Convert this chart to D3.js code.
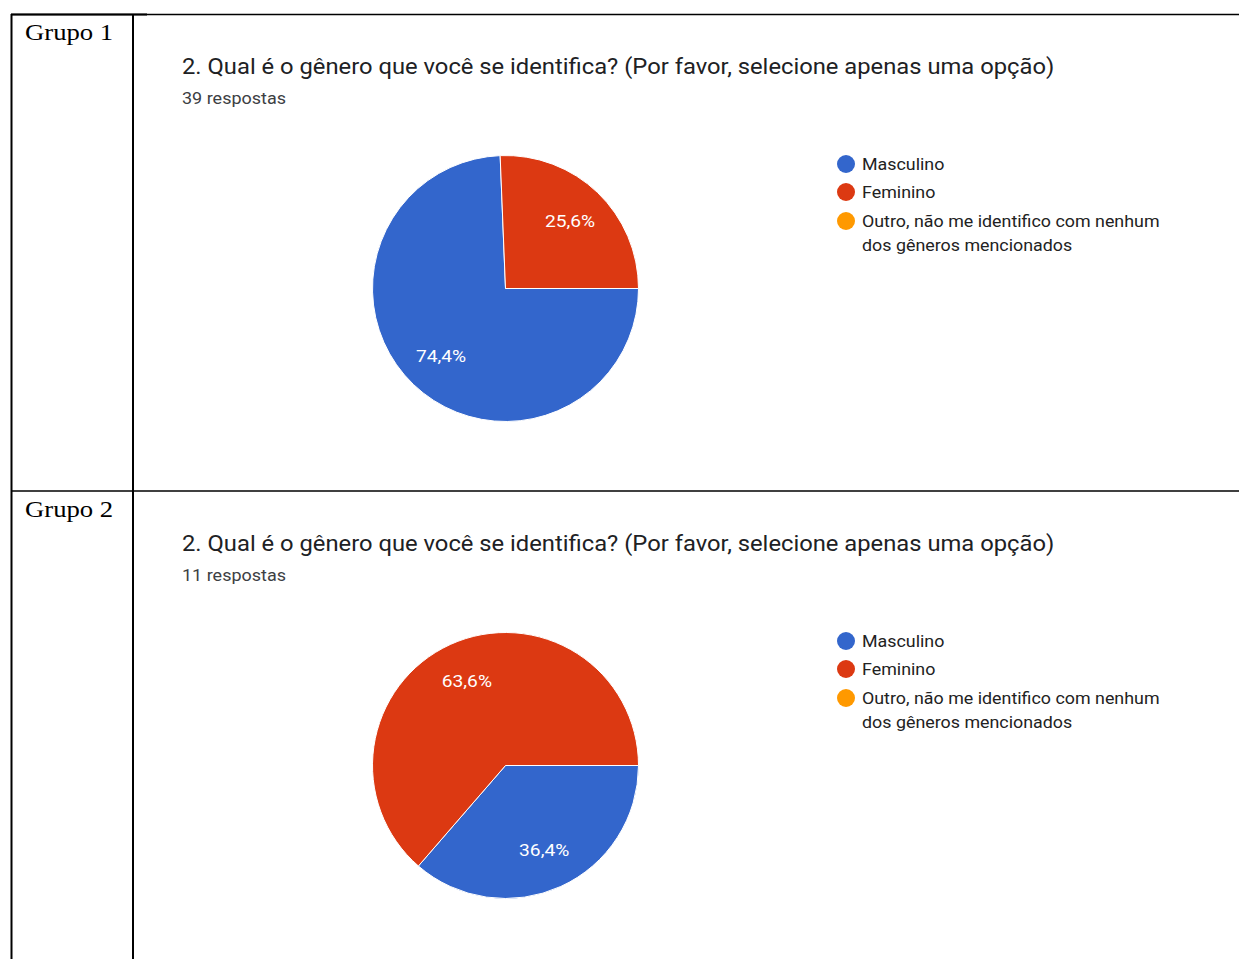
<!DOCTYPE html>
<html>
<head>
<meta charset="utf-8">
<script src="https://cdn.jsdelivr.net/npm/d3@7"></script>
<style>
  html, body { margin: 0; padding: 0; background: #fff; }
  svg { display: block; }
</style>
</head>
<body>
<svg id="chart" width="1239" height="959"></svg>
<script>
// Survey data: two groups, same question
const groups = ["Grupo 1", "Grupo 2"];
const question = "2. Qual é o gênero que você se identifica? (Por favor, selecione apenas uma opção)";
const categories = ["Masculino", "Feminino", "Outro, não me identifico com nenhum dos gêneros mencionados"];
const legendLines = [["Masculino"], ["Feminino"], ["Outro, não me identifico com nenhum", "dos gêneros mencionados"]];
const responses = [39, 11];
const group1Counts = [29, 10, 0];
const group2Counts = [4, 7, 0];
const palette = ["#3366cc", "#dc3912", "#ff9900"];

const svg = d3.select("#chart");
const color = d3.scaleOrdinal().domain(categories).range(palette);

// Text is drawn slightly wide; measure natural width and stretch to target
function widen(sel, factor) {
  sel.each(function () {
    const w = this.getComputedTextLength();
    d3.select(this).attr("textLength", w * factor).attr("lengthAdjust", "spacingAndGlyphs");
  });
  return sel;
}

// Table frame
const frame = svg.append("g").attr("stroke", "#000").attr("fill", "none");
frame.append("line").attr("x1", 11).attr("x2", 1239).attr("y1", 14.5).attr("y2", 14.5).attr("stroke-width", 1.5);
frame.append("line").attr("x1", 11).attr("x2", 147).attr("y1", 14.5).attr("y2", 14.5).attr("stroke-width", 2);
frame.append("line").attr("x1", 11).attr("x2", 1239).attr("y1", 491).attr("y2", 491).attr("stroke-width", 1.5);
frame.append("line").attr("x1", 11.5).attr("x2", 11.5).attr("y1", 14).attr("y2", 959).attr("stroke-width", 2);
frame.append("line").attr("x1", 133).attr("x2", 133).attr("y1", 14).attr("y2", 959).attr("stroke-width", 2);

const pie = d3.pie().sort(null).value(d => d.value)
  .startAngle(Math.PI / 2).endAngle(Math.PI / 2 + 2 * Math.PI);
const radius = 133;
const arc = d3.arc().innerRadius(0).outerRadius(radius);
const labelArc = d3.arc().innerRadius(radius * 0.7).outerRadius(radius * 0.7);

const fmt = v => (Math.round(v * 1000) / 10).toFixed(1).replace(".", ",") + "%";

[group1Counts, group2Counts].forEach((counts, gi) => {
  const top = gi === 0 ? 14 : 491;
  const total = responses[gi];
  const data = categories.map((c, i) => ({ cat: c, value: counts[i] }));

  widen(svg.append("text")
    .attr("x", 25).attr("y", top + 26)
    .attr("font-family", "Liberation Serif, Times New Roman, serif")
    .attr("font-size", 23).attr("fill", "#000")
    .text(groups[gi]), 1.16);

  widen(svg.append("text")
    .attr("x", 182).attr("y", top + 59.5)
    .attr("font-family", "Roboto, sans-serif")
    .attr("font-size", 22.5).attr("fill", "#202124")
    .text(question), 1.056);

  widen(svg.append("text")
    .attr("x", 182).attr("y", top + 90)
    .attr("font-family", "Roboto, sans-serif")
    .attr("font-size", 16.5).attr("fill", "#3c4043")
    .text(responses[gi] + " respostas"), 1.09);

  const g = svg.append("g").attr("transform", `translate(505.5,${top + 274.5})`);
  const arcs = pie(data).filter(d => d.data.value > 0);
  g.selectAll("path").data(arcs).join("path")
    .attr("d", arc)
    .attr("fill", d => color(d.data.cat))
    .attr("stroke", "#fff").attr("stroke-width", 1);

  widen(g.selectAll("text").data(arcs).join("text")
    .attr("transform", d => `translate(${labelArc.centroid(d)})`)
    .attr("text-anchor", "middle")
    .attr("dy", "0.36em")
    .attr("font-family", "Roboto, sans-serif")
    .attr("font-size", 17).attr("fill", "#fff")
    .text(d => fmt(d.data.value / total)), 1.13);

  // Legend
  const lg = svg.append("g").attr("transform", `translate(846,${top + 150})`);
  const rowY = [0, 28, 57];
  legendLines.forEach((lines, i) => {
    const row = lg.append("g").attr("transform", `translate(0,${rowY[i]})`);
    row.append("circle").attr("r", 9).attr("fill", palette[i]);
    lines.forEach((ln, j) => {
      widen(row.append("text")
        .attr("x", 16).attr("y", j * 24).attr("dy", "0.36em")
        .attr("font-family", "Roboto, sans-serif")
        .attr("font-size", 17).attr("fill", "#222")
        .text(ln), 1.05);
    });
  });
});
</script>
</body>
</html>
